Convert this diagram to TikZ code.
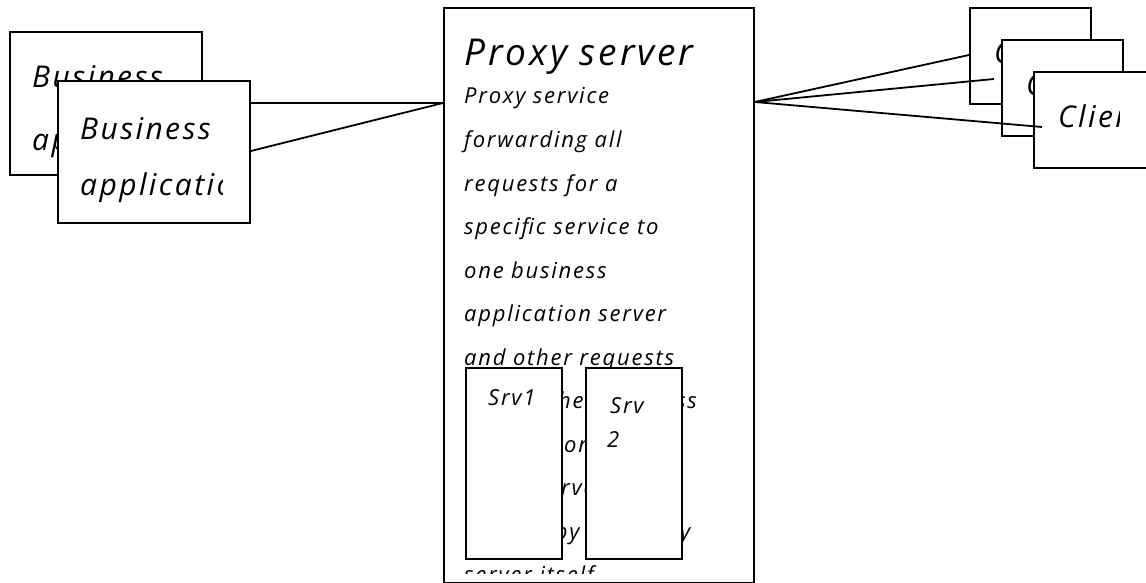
\documentclass[tikz,border=0pt]{standalone}
\usepackage{fontspec}
\setmainfont{Open Sans}[LetterSpace=8]
\tikzset{
  box/.style={draw, fill=white, line width=1.8pt, inner sep=0pt, anchor=north west},
  sketch/.style={font=\itshape\fontsize{30}{36}\selectfont, anchor=base west, inner sep=0pt},
  title/.style={font=\itshape\fontsize{37}{42}\selectfont, anchor=base west, inner sep=0pt},
  body/.style={font=\itshape\fontsize{22}{26}\selectfont, anchor=base west, inner sep=0pt},
  small/.style={font=\itshape\fontsize{22}{26}\selectfont, anchor=base west, inner sep=0pt},
  link/.style={line width=1.8pt}
}
\begin{document}
\begin{tikzpicture}[x=1pt,y=-1pt]
  \clip (0,0) rectangle (1146,583);
  % business applications
  \node[box, minimum width=192pt, minimum height=143pt] (biz1) at (9,31) {};
  \begin{scope}
    \clip (biz1.south west) rectangle ([xshift=-28pt]biz1.north east);
    \node[sketch] (biz1a) at (32,88) {Business};
    \node[sketch] (biz1b) at (32,150) {application};
  \end{scope}
  \node[box, minimum width=192pt, minimum height=142pt] (biz2) at (57,80) {};
  \begin{scope}
    \clip (biz2.south west) rectangle ([xshift=-28pt]biz2.north east);
    \node[sketch] (biz2a) at (80,140) {Business};
    \node[sketch] (biz2b) at (80,195) {application};
  \end{scope}
  % proxy server
  \node[box, minimum width=310pt, minimum height=575pt] (proxy) at (443,7) {};
  \begin{scope}
    \clip ([shift={(2pt,10pt)}]proxy.south west) rectangle ([shift={(-2pt,-2pt)}]proxy.north east);
    \node[title] (ptitle) at (464,66) {Proxy server};
    \foreach \txt [count=\i] in {{Proxy service}, {forwarding all}, {requests for a},
        {specific service to}, {one business}, {application server}, {and other requests},
        {to the other business}, {application server\ldots}, {and is served},
        {directly by the proxy}, {server itself.}}
      \node[body] (pline\i) at (464,60.5+43.5*\i) {\txt};
  \end{scope}
  \node[box, minimum width=96pt, minimum height=191pt] (srv1) at (465,367) {};
  \node[small] (srv1t) at (488,405) {Srv1};
  \node[box, minimum width=96pt, minimum height=191pt] (srv2) at (585,367) {};
  \node[small] (srv2a) at (610,413) {Srv};
  \node[small] (srv2b) at (607,447) {2};
  % clients
  \foreach \nm/\cx/\cy in {cli1/969/7, cli2/1001/39, cli3/1033/71} {
    \node[box, minimum width=121pt, minimum height=96pt] (\nm) at (\cx,\cy) {};
    \begin{scope}
      \clip (\nm.south west) rectangle ([xshift=-36pt]\nm.north east);
      \node[sketch] (\nm t) at (\cx+25,\cy+57) {Client};
    \end{scope}
  }
  % connectors
  \coordinate (c2end) at (994,79);
  \coordinate (c3end) at (1042,127);
  \draw[link] (biz2.east |- 0,103) -- (proxy.west |- 0,103);
  \draw[link] (biz2.east |- 0,151) -- (proxy.west |- 0,103);
  \draw[link] (proxy.east |- 0,102) -- (cli1.west |- 0,55);
  \draw[link] (proxy.east |- 0,102) -- (c2end);
  \draw[link] (proxy.east |- 0,102) -- (c3end);
\end{tikzpicture}
\end{document}
